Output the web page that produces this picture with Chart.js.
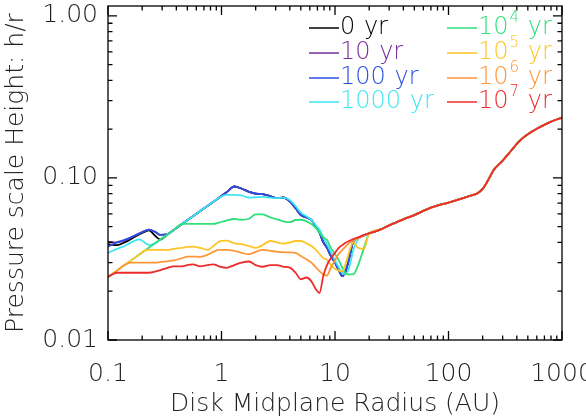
<!DOCTYPE html>
<html>
<head>
<meta charset="utf-8">
<script src="https://cdn.jsdelivr.net/npm/chart.js@4.4.1/dist/chart.umd.min.js"></script>
<style>
  html, body { margin: 0; padding: 0; background: #fff; }
  #wrap { width: 586px; height: 417px; }
</style>
</head>
<body>
<div id="wrap"><canvas id="scaleHeightChart" width="586" height="417"></canvas></div>
<script>
// radius grid (AU) for the inner disk, where the runs differ
const RADIUS_IN = [0.1, 0.12, 0.14, 0.16, 0.19, 0.21, 0.23, 0.26, 0.29, 0.33, 0.38, 0.45, 0.5, 0.56, 0.65,
    0.75, 0.85, 0.95, 1.1, 1.3, 1.5, 1.75, 2.0, 2.3, 2.7, 3.1, 3.5, 4.0, 4.5, 5.0, 5.6, 6.2, 6.8, 7.3,
    7.9, 8.5, 9.2, 10, 10.8, 11.6, 12.5, 13.5, 14.5, 16, 18];

// outer disk, all runs lie on the same curve
const RADIUS_OUT = [20, 25, 30, 40, 50, 70, 100, 130, 160, 180, 200, 220, 250, 300, 350, 400, 450, 500, 600, 750, 1000];
const H_OUT = [0.0455, 0.048, 0.051, 0.0555, 0.059, 0.0655, 0.0705, 0.0745, 0.078, 0.0805, 0.0855, 0.095, 0.112,
    0.128, 0.145, 0.162, 0.176, 0.186, 0.201, 0.218, 0.236];

const H_0YR = [0.039, 0.0385, 0.040, 0.042, 0.045, 0.0465, 0.0475, 0.044, 0.0417, 0.0445, 0.0478, 0.052, 0.0548, 0.058, 0.0625,
    0.067, 0.0714, 0.0755, 0.0813, 0.0885, 0.086, 0.082, 0.080, 0.0795, 0.077, 0.075, 0.0757, 0.0716, 0.065, 0.059, 0.057, 0.055, 0.050, 0.046,
    0.040, 0.037, 0.033, 0.030, 0.027, 0.0248, 0.027, 0.033, 0.0407, 0.0425, 0.0442];
const H_10YR = [0.0405, 0.040, 0.041, 0.043, 0.0455, 0.047, 0.048, 0.0465, 0.0445, 0.0448, 0.0478, 0.052, 0.0548, 0.058, 0.0625,
    0.067, 0.0714, 0.0755, 0.0813, 0.0885, 0.086, 0.082, 0.080, 0.0795, 0.077, 0.075, 0.0757, 0.0716, 0.065, 0.059, 0.057, 0.055, 0.050, 0.046,
    0.040, 0.037, 0.033, 0.030, 0.027, 0.0248, 0.027, 0.033, 0.0407, 0.0425, 0.0442];
const H_100YR = [0.0377, 0.040, 0.0415, 0.043, 0.0455, 0.047, 0.048, 0.0465, 0.0445, 0.0448, 0.0478, 0.052, 0.0548, 0.058, 0.0625,
    0.067, 0.0714, 0.0755, 0.0813, 0.0885, 0.086, 0.082, 0.080, 0.0795, 0.077, 0.075, 0.0757, 0.0716, 0.065, 0.059, 0.057, 0.055, 0.050, 0.046,
    0.040, 0.037, 0.033, 0.030, 0.027, 0.0248, 0.027, 0.033, 0.0407, 0.0425, 0.0442];
const H_1000YR = [0.0345, 0.0365, 0.038, 0.040, 0.0418, 0.040, 0.0385, 0.0395, 0.0417, 0.0445, 0.0478, 0.052, 0.0548, 0.058, 0.0625,
    0.067, 0.0714, 0.0755, 0.0785, 0.0785, 0.078, 0.0755, 0.076, 0.0765, 0.0755, 0.075, 0.0755, 0.073, 0.067, 0.061, 0.058, 0.055, 0.051, 0.048,
    0.043, 0.039, 0.035, 0.031, 0.028, 0.026, 0.0255, 0.029, 0.036, 0.042, 0.0442];
const H_1E4YR = [0.0245, 0.0268, 0.029, 0.031, 0.0338, 0.0355, 0.0372, 0.0395, 0.0417, 0.0445, 0.0478, 0.052, 0.052, 0.052, 0.052,
    0.052, 0.052, 0.053, 0.0545, 0.0558, 0.0552, 0.056, 0.0595, 0.0595, 0.057, 0.0555, 0.054, 0.0533, 0.055, 0.0552, 0.054, 0.052, 0.049, 0.046,
    0.0428, 0.0415, 0.037, 0.034, 0.031, 0.028, 0.0255, 0.0254, 0.0254, 0.029, 0.037];
const H_1E5YR = [0.0245, 0.0268, 0.029, 0.031, 0.0338, 0.0355, 0.036, 0.036, 0.036, 0.036, 0.0365, 0.037, 0.0375, 0.0377, 0.037,
    0.036, 0.038, 0.0405, 0.041, 0.0395, 0.039, 0.038, 0.037, 0.0385, 0.0408, 0.040, 0.0393, 0.040, 0.0408, 0.0408, 0.0395, 0.038, 0.036, 0.034,
    0.032, 0.0312, 0.029, 0.0275, 0.0268, 0.0265, 0.030, 0.036, 0.040, 0.037, 0.0365];
const H_1E6YR = [0.0245, 0.0268, 0.029, 0.030, 0.030, 0.030, 0.030, 0.030, 0.0303, 0.0306, 0.031, 0.032, 0.0327, 0.0327, 0.0326,
    0.0335, 0.035, 0.036, 0.036, 0.0355, 0.0345, 0.0338, 0.035, 0.036, 0.0355, 0.035, 0.0348, 0.0347, 0.0345, 0.033, 0.0315, 0.030, 0.028, 0.0266,
    0.0254, 0.025, 0.028, 0.031, 0.034, 0.036, 0.038, 0.040, 0.041, 0.0425, 0.0442];
const H_1E7YR = [0.0245, 0.026, 0.026, 0.026, 0.026, 0.026, 0.026, 0.0264, 0.027, 0.0278, 0.0285, 0.0285, 0.029, 0.0293, 0.0285,
    0.029, 0.0293, 0.0285, 0.0279, 0.029, 0.030, 0.0305, 0.029, 0.0283, 0.029, 0.029, 0.0283, 0.028, 0.026, 0.0237, 0.0243, 0.023, 0.0205, 0.0195,
    0.025, 0.029, 0.032, 0.0345, 0.037, 0.0385, 0.040, 0.041, 0.042, 0.043, 0.0445];

const SERIES_H = [H_0YR, H_10YR, H_100YR, H_1000YR, H_1E4YR, H_1E5YR, H_1E6YR, H_1E7YR];
const SERIES_COLORS = ['#000000', '#7a2e9c', '#2a4fe0', '#3fe6f2', '#2fe07a', '#ffc425', '#ff9638', '#ee2b2b'];
const LEGEND_BASE = ['0', '10', '100', '1000', '10', '10', '10', '10'];
const LEGEND_EXP = ['', '', '', '', '4', '5', '6', '7'];

const X_TICKS = [0.1, 1, 10, 100, 1000];
const X_TICK_LABELS = ['0.1', '1', '10', '100', '1000'];
const Y_TICKS = [0.01, 0.1, 1];
const Y_TICK_LABELS = ['0.01', '0.10', '1.00'];

const AXIS_FONT = '200 25px "DejaVu Sans"';
const LEGEND_FONT = '200 24px "DejaVu Sans"';
const SUP_FONT = '200 15px "DejaVu Sans"';

function toPoints(h) {
    const pts = RADIUS_IN.map((r, i) => ({ x: r, y: h[i] }));
    return pts.concat(RADIUS_OUT.map((r, i) => ({ x: r, y: H_OUT[i] })));
}

// axes box, inward ticks, labels and the two-column legend (IDL style)
const idlFrame = {
    id: 'idlFrame',
    afterDraw(chart) {
        const { ctx, chartArea: a, scales: { x, y } } = chart;
        ctx.save();
        ctx.strokeStyle = '#000';
        ctx.lineWidth = 1.3;
        ctx.strokeRect(a.left, a.top, a.right - a.left, a.bottom - a.top);

        ctx.beginPath();
        for (let i = 0; i < X_TICKS.length; i++) {
            const d = X_TICKS[i];
            const px = x.getPixelForValue(d);
            ctx.moveTo(px, a.bottom); ctx.lineTo(px, a.bottom - 9);
            ctx.moveTo(px, a.top); ctx.lineTo(px, a.top + 9);
            if (i < X_TICKS.length - 1) {
                for (let m = 2; m < 10; m++) {
                    const pm = x.getPixelForValue(d * m);
                    ctx.moveTo(pm, a.bottom); ctx.lineTo(pm, a.bottom - 4.5);
                    ctx.moveTo(pm, a.top); ctx.lineTo(pm, a.top + 4.5);
                }
            }
        }
        for (let i = 0; i < Y_TICKS.length; i++) {
            const d = Y_TICKS[i];
            const py = y.getPixelForValue(d);
            ctx.moveTo(a.left, py); ctx.lineTo(a.left + 9, py);
            ctx.moveTo(a.right, py); ctx.lineTo(a.right - 9, py);
            if (i < Y_TICKS.length - 1) {
                for (let m = 2; m < 10; m++) {
                    const pm = y.getPixelForValue(d * m);
                    ctx.moveTo(a.left, pm); ctx.lineTo(a.left + 4.5, pm);
                    ctx.moveTo(a.right, pm); ctx.lineTo(a.right - 4.5, pm);
                }
            }
        }
        ctx.stroke();

        ctx.fillStyle = '#222';
        ctx.font = AXIS_FONT;
        ctx.textBaseline = 'middle';
        ctx.textAlign = 'center';
        X_TICKS.forEach((d, i) => ctx.fillText(X_TICK_LABELS[i], x.getPixelForValue(d), a.bottom + 34));
        ctx.textAlign = 'right';
        Y_TICKS.forEach((d, i) => ctx.fillText(Y_TICK_LABELS[i], a.left - 10, y.getPixelForValue(d)));

        ctx.textAlign = 'center';
        ctx.fillText('Disk Midplane Radius (AU)', (a.left + a.right) / 2, a.bottom + 64);
        ctx.save();
        ctx.translate(16, (a.top + a.bottom) / 2);
        ctx.rotate(-Math.PI / 2);
        ctx.fillText('Pressure scale Height: h/r', 0, 0);
        ctx.restore();

        // legend
        ctx.textAlign = 'left';
        ctx.lineWidth = 1.5;
        const cols = [309, 447];
        const rows = [28, 53, 78, 102];
        for (let i = 0; i < SERIES_H.length; i++) {
            const cx = cols[Math.floor(i / 4)];
            const cy = rows[i % 4];
            ctx.strokeStyle = SERIES_COLORS[i];
            ctx.fillStyle = SERIES_COLORS[i];
            ctx.beginPath();
            ctx.moveTo(cx, cy); ctx.lineTo(cx + 30, cy);
            ctx.stroke();
            ctx.font = LEGEND_FONT;
            let tx = cx + 31;
            ctx.fillText(LEGEND_BASE[i], tx, cy);
            tx += ctx.measureText(LEGEND_BASE[i]).width;
            if (LEGEND_EXP[i]) {
                ctx.font = SUP_FONT;
                ctx.fillText(LEGEND_EXP[i], tx + 1, cy - 10);
                tx += ctx.measureText(LEGEND_EXP[i]).width + 1;
                ctx.font = LEGEND_FONT;
            }
            ctx.fillText(' yr', tx + 1, cy);
        }
        ctx.restore();
    }
};

const ctx = document.getElementById('scaleHeightChart').getContext('2d');
new Chart(ctx, {
    type: 'line',
    data: {
        datasets: SERIES_H.map((h, i) => ({
            label: LEGEND_BASE[i] + (LEGEND_EXP[i] ? '^' + LEGEND_EXP[i] : '') + ' yr',
            data: toPoints(h),
            borderColor: SERIES_COLORS[i],
            borderWidth: 1.8,
            pointRadius: 0,
            cubicInterpolationMode: 'monotone',
            order: SERIES_H.length - i
        }))
    },
    options: {
        responsive: false,
        animation: false,
        layout: { padding: { left: 108, right: 24, top: 6, bottom: 77 } },
        plugins: { legend: { display: false }, tooltip: { enabled: false } },
        scales: {
            x: { type: 'logarithmic', min: 0.1, max: 1000, display: false },
            y: { type: 'logarithmic', min: 0.01, max: 1.15, display: false }
        }
    },
    plugins: [idlFrame]
});
</script>
</body>
</html>
